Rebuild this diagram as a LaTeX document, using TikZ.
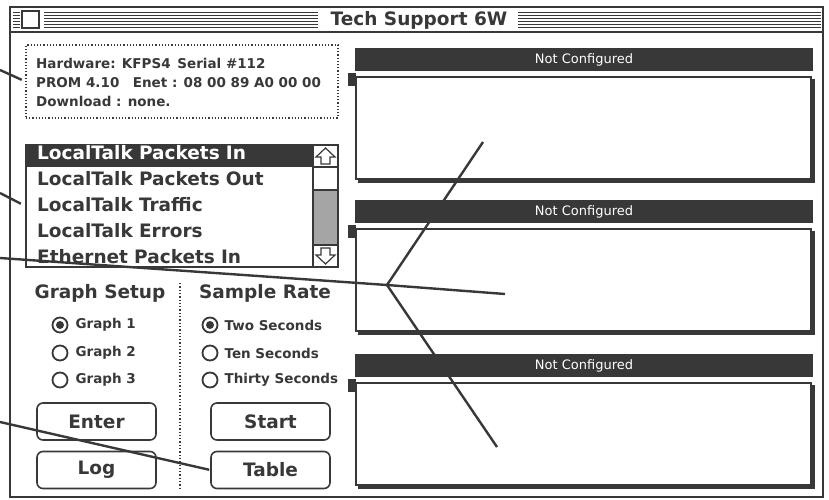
\documentclass[tikz,border=0pt]{standalone}
\usepackage{fontspec}
\setmainfont{DejaVu Sans}
\usepackage{tikz}
\usetikzlibrary{positioning}
\definecolor{macdark}{gray}{0.22}

\begin{document}
\begin{tikzpicture}[x=1pt, y=-1pt, every node/.style={inner sep=0pt, text=macdark},
    chicago/.style={font=\bfseries\fontsize{18.5}{20}\selectfont},
    geneva/.style={font=\bfseries\fontsize{13.5}{19}\selectfont},
    rowtxt/.style={chicago, anchor=west, minimum height=22pt, text width=266pt, inner xsep=10pt, text height=13pt, text depth=5pt},
    radio/.style={draw=macdark, circle, line width=1.8pt, minimum size=15pt},
    picked/.style={radio, path picture={\fill[macdark] (path picture bounding box.center) circle (4pt);}},
    btn/.style={draw=macdark, rounded corners=6pt, line width=1.6pt, minimum width=119pt, minimum height=37pt, chicago},
    panelbar/.style={fill=macdark, text=white, font=\fontsize{13}{14}\selectfont, minimum width=458pt, minimum height=23pt},
    leader/.style={draw=macdark, line width=2.4pt}]
    \useasboundingbox (0,0) rectangle (829,500);

    % Window and title bar
    \draw[macdark, line width=1.5pt] (10,7) rectangle (823,497);
    \draw[macdark, line width=1.5pt] (10,32) -- (823,32);
    \foreach \y in {12,15,...,27}
        \draw[macdark, line width=0.9pt] (13,\y) -- (20,\y) (44,\y) -- (318,\y) (518,\y) -- (821,\y);
    \draw[macdark, fill=white, line width=1.3pt] (22,11) rectangle (39,28);
    \node[chicago] (title) at (419,20) {Tech Support 6W};

    % Hardware info
    \node[draw=macdark, dotted, line width=1.2pt, minimum width=312pt, minimum height=73pt] (info) at (182,81.5) {};
    \node[geneva, anchor=west, align=left] (hwtext) at (36,82) {Hardware: KFPS4\enspace Serial \#112\\PROM 4.10\quad Enet : 08 00 89 A0 00 00\\Download : none.};

    % List
    \node[draw=macdark, line width=1.5pt, minimum width=312pt, minimum height=122pt] (list) at (182,206) {};
    \node[rowtxt, fill=macdark, text=white] (row1) at (27,155.5) {LocalTalk Packets In};
    \node[rowtxt] (row2) [below=3.5pt of row1] {LocalTalk Packets Out};
    \node[rowtxt] (row3) [below=3.5pt of row2] {LocalTalk Traffic};
    \node[rowtxt] (row4) [below=3.5pt of row3] {LocalTalk Errors};
    \node[rowtxt] (row5) [below=3.5pt of row4] {Ethernet Packets In};

    % Scroll bar
    \draw[macdark, line width=1.3pt] (313,145) rectangle (338,167) (313,167) rectangle (338,190);
    \draw[macdark, line width=1.3pt, fill=macdark!45] (313,190) rectangle (338,245);
    \draw[macdark, line width=1.3pt] (313,245) rectangle (338,267);
    \draw[macdark, line width=1.2pt] (325.5,148) -- (335,157) -- (330,157) -- (330,164) -- (321,164) -- (321,157) -- (316,157) -- cycle;
    \draw[macdark, line width=1.2pt] (325.5,264) -- (335,255) -- (330,255) -- (330,248) -- (321,248) -- (321,255) -- (316,255) -- cycle;

    % Graph setup and sample rate
    \node[chicago] (setup) at (100,293) {Graph Setup};
    \node[chicago] (rate) at (265,293) {Sample Rate};
    \draw[macdark, dotted, line width=1.3pt] (180,283) -- (180,490);

    \node[picked] (graph1) at (60,325) {};
    \node[radio] (graph2) at (60,353) {};
    \node[radio] (graph3) at (60,380) {};
    \node[geneva, right=7pt of graph1] (graph1txt) {Graph 1};
    \node[geneva, right=7pt of graph2] (graph2txt) {Graph 2};
    \node[geneva, right=7pt of graph3] (graph3txt) {Graph 3};

    \node[picked] (two) at (210,325) {};
    \node[radio] (ten) at (210,353) {};
    \node[radio] (thirty) at (210,380) {};
    \node[geneva, right=6pt of two] (twotxt) {Two Seconds};
    \node[geneva, right=6pt of ten] (tentxt) {Ten Seconds};
    \node[geneva, right=6pt of thirty] (thirtytxt) {Thirty Seconds};

    % Buttons
    \node[btn] (enter) at (96.5,421.5) {Enter};
    \node[btn] (log) at (96.5,470) {Log};
    \node[btn] (start) at (270.5,421.5) {Start};
    \node[btn] (table) at (270.5,470) {Table};

    % Graph panels
    \foreach \t [count=\i] in {48,200,354} {
        \node[panelbar] (bar\i) at (584,\t+11.5) {Not Configured};
        \fill[macdark] (348,\t+25) rectangle (356,\t+38);
        \draw[macdark, line width=1.5pt] (356,\t+29) rectangle (811,\t+131);
        \draw[macdark, line width=3pt] (358,\t+133) -- (813,\t+133) -- (813,\t+31);
    }

    % Leader lines
    \coordinate (lead1) at (0,70);
    \coordinate (lead2) at (0,193);
    \coordinate (lead3) at (0,258);
    \coordinate (lead4) at (0,422);
    \coordinate (hub) at (387,285);
    \coordinate (tip1) at (483,142);
    \coordinate (tip2) at (505,294);
    \coordinate (tip3) at (497,447);

    \draw[leader, shorten >=4pt] (lead1) -- (info.west);
    \draw[leader, shorten >=5pt] (lead2) -- (list.west);
    \draw[leader] (lead3) -- (hub) -- (tip1);
    \draw[leader] (hub) -- (tip2);
    \draw[leader] (hub) -- (tip3);
    \draw[leader, shorten >=1pt] (lead4) -- (table.west);
\end{tikzpicture}
\end{document}
